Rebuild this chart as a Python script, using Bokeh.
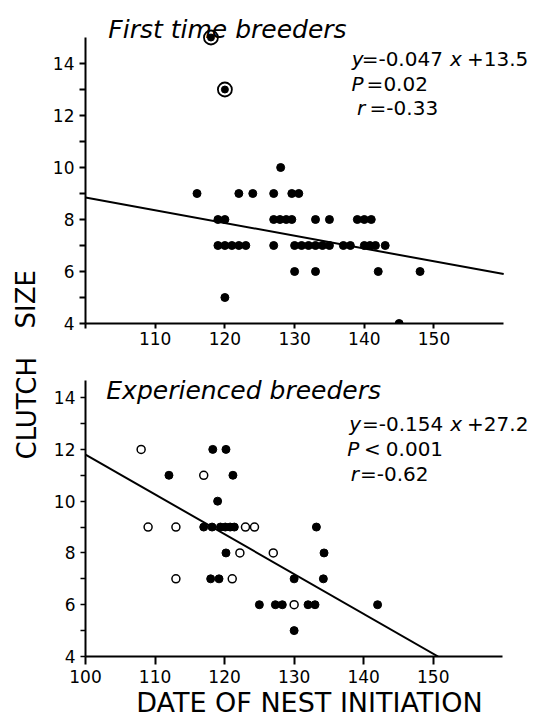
import math
from bokeh.plotting import figure
from bokeh.models import FixedTicker, Label, Range1d, Title
from bokeh.layouts import column
from bokeh.embed import file_html
from bokeh.resources import INLINE

FONT = "DejaVu Sans"

# ---------------- data ----------------
# First time breeders (filled dots)
ft_x = [128,
        116, 122, 124, 127, 129.6, 130.6,
        119, 120, 127, 127.9, 128.8, 129.6, 133, 135, 139, 140, 141,
        119, 120, 121, 122, 123, 127, 130, 131, 132, 133, 134, 135, 137, 138, 140, 140.8, 141.6, 143,
        130, 133, 142, 148,
        120,
        145]
ft_y = [10,
        9, 9, 9, 9, 9, 9,
        8, 8, 8, 8, 8, 8, 8, 8, 8, 8, 8,
        7, 7, 7, 7, 7, 7, 7, 7, 7, 7, 7, 7, 7, 7, 7, 7, 7, 7,
        6, 6, 6, 6,
        5,
        4]
# circled (outlier) points
ft_out_x = [118, 120]
ft_out_y = [15, 13]
# regression line, first time breeders
ft_reg_x = [100, 160]
ft_reg_y = [8.85, 5.9]

# Experienced breeders
ex_open_x = [108, 109, 113, 113, 117, 123, 124.3, 122.2, 121.1, 127, 130]
ex_open_y = [12, 9, 9, 7, 11, 9, 9, 8, 7, 8, 6]
ex_fill_x = [118.3, 120.2, 112, 121.2, 119,
             117, 118.2, 119.4, 120.1, 120.8, 121.4,
             120.2, 118, 119.2, 125, 127.3, 128.3, 130, 130, 132, 133, 133.2, 134.3, 134.2, 142]
ex_fill_y = [12, 12, 11, 11, 10,
             9, 9, 9, 9, 9, 9,
             8, 7, 7, 6, 6, 6, 7, 5, 6, 6, 9, 8, 7, 6]
ex_reg_x = [100, 150.7]
ex_reg_y = [11.8, 4.0]

y_ticks = [4, 6, 8, 10, 12, 14]
y_minor = [5, 7, 9, 11, 13]
x_ticks = [100, 110, 120, 130, 140, 150]

# ---------------- layout ----------------
W = 533
# pixel geometry of each panel: x=100 at px0, y=4 at py0 (page pixels)
G1 = dict(top=0, h=354, px0=82, sx=421 / 60, py0=323, sy=26.0, ytop=15)
G2 = dict(top=354, h=366, px0=81, sx=421 / 60, py0=656, sy=25.89, ytop=14.66)


def ranges(g):
    x_end = 100 + (W - g["px0"]) / g["sx"]
    y_end = 4 + (g["py0"] - g["top"]) / g["sy"]
    return x_end, y_end


def conv(g, px, py):
    return 100 + (px - g["px0"]) / g["sx"], 4 + (g["py0"] - py) / g["sy"]


def make_fig(g, tick_out, standoff):
    x_end, y_end = ranges(g)
    left = g["px0"]
    bottom = g["h"] - (g["py0"] - g["top"])
    p = figure(width=W, height=g["h"], x_range=Range1d(100, x_end),
               y_range=Range1d(4, y_end), output_backend="svg",
               toolbar_location=None, min_border_left=left,
               min_border_right=0, min_border_top=0,
               min_border_bottom=bottom)
    p.outline_line_color = None
    p.xgrid.visible = False
    p.ygrid.visible = False
    p.background_fill_color = "white"
    p.border_fill_color = "white"
    for ax in p.xaxis:
        ax.bounds = (100, 160)
        ax.ticker = FixedTicker(ticks=x_ticks, minor_ticks=[])
        ax.axis_line_width = 2
        ax.major_tick_line_width = 2
        ax.major_tick_out = tick_out
        ax.major_tick_in = 0
        ax.minor_tick_out = 0
        ax.minor_tick_in = 0
        ax.major_label_text_font = FONT
        ax.major_label_text_font_size = "17px"
        ax.major_label_text_color = "black"
        ax.major_label_standoff = standoff
    for ax in p.yaxis:
        ax.bounds = (4, g["ytop"])
        ax.ticker = FixedTicker(ticks=y_ticks, minor_ticks=y_minor)
        ax.axis_line_width = 2
        ax.major_tick_line_width = 2
        ax.minor_tick_line_width = 2
        ax.major_tick_out = 6
        ax.major_tick_in = 0
        ax.minor_tick_out = 6
        ax.minor_tick_in = 0
        ax.major_label_text_font = FONT
        ax.major_label_text_font_size = "17px"
        ax.major_label_text_color = "black"
        ax.major_label_standoff = 5
    return p


def lab(p, g, px, py, text, size, italic=False, baseline="middle",
        align="left"):
    x, y = conv(g, px, py)
    p.add_layout(Label(x=x, y=y, text=text, text_font=FONT,
                       text_font_size=f"{size}px",
                       text_font_style="italic" if italic else "normal",
                       text_baseline=baseline, text_align=align,
                       text_color="black"))


def side_title(p, text, offset, standoff):
    p.add_layout(Title(text=text, align="left", offset=offset,
                       standoff=standoff, text_font=FONT,
                       text_font_size="26px", text_font_style="normal",
                       text_color="black"), "left")


# ---------- top panel ----------
p1 = make_fig(G1, 5, 3)
p1.xaxis.major_label_overrides = {100: ""}
p1.line(ft_reg_x, ft_reg_y, line_color="black", line_width=2)
p1.scatter(ft_x, ft_y, size=8, marker="circle", fill_color="black",
           line_color="black")
p1.scatter(ft_out_x, ft_out_y, size=14, marker="circle", fill_color=None,
           line_color="black", line_width=1.8)
p1.scatter(ft_out_x, ft_out_y, size=7, marker="circle", fill_color="black",
           line_color="black")

lab(p1, G1, 105, 28.5, "First time breeders", 25, italic=True,
    baseline="alphabetic")
lab(p1, G1, 350, 58.5, "y", 20, italic=True)
lab(p1, G1, 360, 58.5, "=-0.047", 20)
lab(p1, G1, 449, 58.5, "x", 20, italic=True)
lab(p1, G1, 466, 58.5, "+13.5", 20)
lab(p1, G1, 349.7, 83.3, "P", 20, italic=True)
lab(p1, G1, 365, 83.3, "=0.02", 20)
lab(p1, G1, 355.4, 107.8, "r", 20, italic=True)
lab(p1, G1, 368, 107.8, "=-0.33", 20)
side_title(p1, "SIZE", -5, 17)

# ---------- bottom panel ----------
p2 = make_fig(G2, 8, 5)
for ax in p2.yaxis:
    ax.major_tick_out = 5
    ax.minor_tick_out = 5
    ax.major_tick_line_width = 1.6
    ax.minor_tick_line_width = 1.6
for ax in p2.xaxis:
    ax.axis_label = "DATE OF NEST INITIATION"
    ax.axis_label_text_font = FONT
    ax.axis_label_text_font_size = "27px"
    ax.axis_label_text_font_style = "normal"
    ax.axis_label_text_color = "black"
    ax.axis_label_standoff = 1
p2.line(ex_reg_x, ex_reg_y, line_color="black", line_width=2)
p2.scatter(ex_fill_x, ex_fill_y, size=8, marker="circle", fill_color="black",
           line_color="black")
p2.scatter(ex_open_x, ex_open_y, size=8, marker="circle", fill_color="white",
           line_color="black", line_width=1.5)

lab(p2, G2, 102, 390, "Experienced breeders", 25, italic=True,
    baseline="alphabetic")
lab(p2, G2, 347, 423.3, "y", 20, italic=True)
lab(p2, G2, 360, 423.3, "=-0.154", 20)
lab(p2, G2, 449, 423.3, "x", 20, italic=True)
lab(p2, G2, 466, 423.3, "+27.2", 20)
lab(p2, G2, 345, 448.8, "P", 20, italic=True)
lab(p2, G2, 362, 448.8, "<", 20)
lab(p2, G2, 384, 448.8, "0.001", 20)
lab(p2, G2, 348.6, 473.4, "r", 20, italic=True)
lab(p2, G2, 358, 473.4, "=-0.62", 20)
side_title(p2, "CLUTCH", 197, 17)

layout = column(p1, p2, spacing=0)
open("out.html", "w").write(file_html(layout, INLINE))
